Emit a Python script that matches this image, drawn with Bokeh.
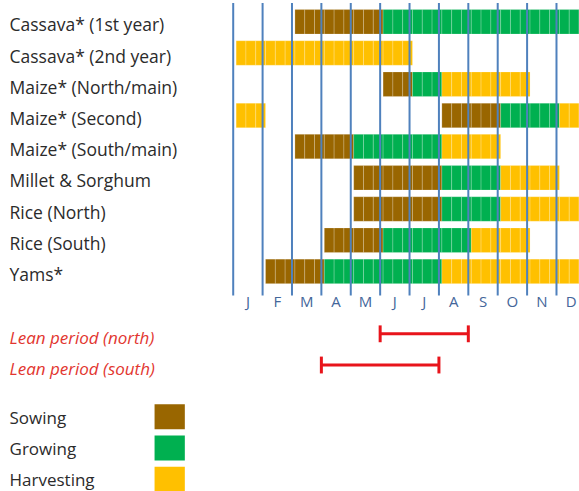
from bokeh.plotting import figure
from bokeh.models import Range1d
from bokeh.core.properties import value
from bokeh.embed import file_html
from bokeh.resources import INLINE

# ---------------- data ----------------
crops = ["Cassava* (1st year)", "Cassava* (2nd year)", "Maize* (North/main)",
         "Maize* (Second)", "Maize* (South/main)", "Millet & Sorghum",
         "Rice (North)", "Rice (South)", "Yams*"]
sowing = [[3, 4, 5], [], [6], [8, 9], [3, 4], [5, 6, 7], [5, 6, 7], [4, 5], [2, 3]]
growing = [[6, 7, 8, 9, 10, 11, 12], [], [7], [10, 11], [5, 6, 7], [8, 9], [8, 9],
           [6, 7, 8], [4, 5, 6, 7]]
harvesting = [[], [1, 2, 3, 4, 5, 6], [8, 9, 10], [12, 1], [8, 9], [10, 11],
              [10, 11, 12], [9, 10], [8, 9, 10, 11, 12]]
month_labels = ["J", "F", "M", "A", "M", "J", "J", "A", "S", "O", "N", "D"]
lean_labels = ["Lean period (north)", "Lean period (south)"]
lean_start = [6, 4]
lean_end = [8, 7]
phase_names = ["Sowing", "Growing", "Harvesting"]
phase_colors = ["#996600", "#00B050", "#FFC000"]

# ---------------- layout ----------------
W, H = 579, 491
X_START, X_END = -7.918, 11.783
Y_TOP, Y_BOTTOM = -0.683, 15.054
BAR_H = 0.785
OFF = 0.1
LABEL_X = -7.611
FONT = value("Open Sans")

p = figure(width=W, height=H, output_backend="svg", toolbar_location=None,
           x_range=Range1d(X_START, X_END), y_range=Range1d(Y_BOTTOM, Y_TOP),
           min_border=0, outline_line_color=None, background_fill_color="white")
p.axis.visible = False
p.grid.visible = False

# cells (dekads)
for phase, color in zip([sowing, growing, harvesting], phase_colors):
    left, right, top, bottom = [], [], [], []
    for row, months in enumerate(phase):
        for m in months:
            for k in range(3):
                l = m - 1 + k / 3 + OFF
                left.append(l)
                right.append(l + 1 / 3)
                top.append(row - BAR_H / 2)
                bottom.append(row + BAR_H / 2)
    p.quad(left=left, right=right, top=top, bottom=bottom, fill_color=color,
           line_color="white", line_alpha=0.2, line_width=1)

# month lines
n = len(month_labels)
p.segment(x0=list(range(n)), x1=list(range(n)), y0=[-0.6] * n,
          y1=[len(crops) - 0.23] * n, line_color="#4F81BD", line_width=2)

# month labels
p.text(x=[i + 0.5 for i in range(n)], y=[len(crops) - 0.05] * n, text=month_labels,
       text_align="center", text_baseline="middle", text_font=FONT,
       text_font_size="15px", text_color="#44669A")

# crop labels
p.text(x=[LABEL_X] * len(crops), y=[r + 0.08 for r in range(len(crops))], text=crops,
       text_align="left", text_baseline="middle", text_font=FONT,
       text_font_size="17.5px", text_color="#2b2b2b")

# lean periods
lean_rows = [len(crops) + 1 + i for i in range(len(lean_labels))]
p.text(x=[LABEL_X] * len(lean_labels), y=[r + 0.11 for r in lean_rows], text=lean_labels,
       text_align="left", text_baseline="middle", text_font=FONT,
       text_font_size="17px", text_font_style="italic", text_color="#E2362F")
ls = [s - 1 for s in lean_start]
p.segment(x0=ls, x1=lean_end, y0=lean_rows, y1=lean_rows,
          line_color="#E8141B", line_width=3)
p.segment(x0=ls + lean_end, x1=ls + lean_end,
          y0=[r - 0.27 for r in lean_rows] * 2, y1=[r + 0.27 for r in lean_rows] * 2,
          line_color="#E8141B", line_width=3)

# legend
leg_rows = [lean_rows[-1] + 1.66 + i for i in range(len(phase_names))]
p.text(x=[LABEL_X] * len(phase_names), y=[r + 0.02 for r in leg_rows], text=phase_names,
       text_align="left", text_baseline="middle", text_font=FONT,
       text_font_size="17px", text_color="#2b2b2b")
p.rect(x=[-2.161] * len(phase_names), y=leg_rows, width=1.03, height=0.8,
       fill_color=phase_colors, line_color=None)

open("out.html", "w").write(file_html(p, INLINE))
